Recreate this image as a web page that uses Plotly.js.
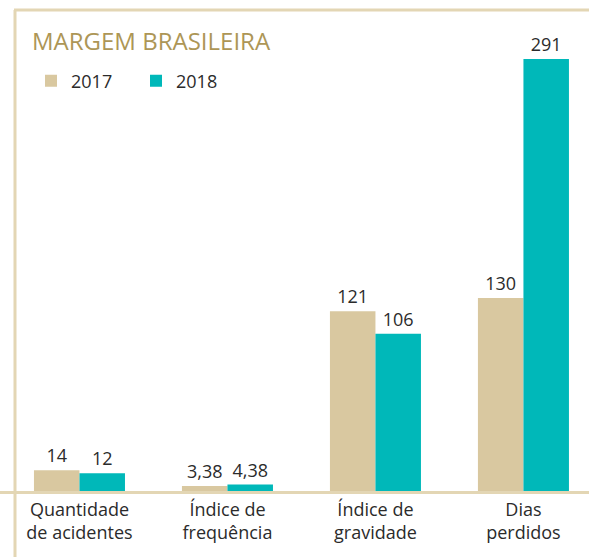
<!DOCTYPE html>
<html>
<head>
<meta charset="utf-8">
<script src="https://cdn.plot.ly/plotly-3.0.1.min.js"></script>
<style>html,body{margin:0;padding:0;background:#fff;}#chart{width:589px;height:557px;}</style>
</head>
<body>
<div id="chart"></div>
<script>
var categories = ["Quantidade<br>de acidentes", "Índice de<br>frequência", "Índice de<br>gravidade", "Dias<br>perdidos"];
var values2017 = [14, 3.38, 121, 130];
var values2018 = [12, 4.38, 106, 291];
var labels2017 = ["14", "3,38", "121", "130"];
var labels2018 = ["12", "4,38", "106", "291"];
var seriesNames = ["2017", "2018"];

var FONT = "'Open Sans', 'Noto Sans', sans-serif";
var tan = "#d9c8a0";
var teal = "#00b8b9";
var lineCol = "#e3d6b4";

var traces = [
  {type: "bar", name: seriesNames[0], x: categories, y: values2017, text: labels2017,
   textposition: "outside", cliponaxis: false, marker: {color: tan},
   textfont: {family: FONT, size: 18, color: "#2b2b2b"}, hoverinfo: "x+y"},
  {type: "bar", name: seriesNames[1], x: categories, y: values2018, text: labels2018,
   textposition: "outside", cliponaxis: false, marker: {color: teal},
   textfont: {family: FONT, size: 18, color: "#2b2b2b"}, hoverinfo: "x+y"}
];

var PH = 432;
var layout = {
  width: 589, height: 557,
  margin: {l: 0, r: 0, t: 59, b: 66, pad: 0, autoexpand: false},
  paper_bgcolor: "#fff", plot_bgcolor: "#fff",
  barmode: "group", bargap: 0.385, bargroupgap: 0,
  font: {family: FONT, color: "#2b2b2b"},
  title: {text: "MARGEM BRASILEIRA", x: 32/589, xanchor: "left", xref: "paper",
          y: 1 - 42/557, yanchor: "middle", yref: "container",
          font: {family: FONT, size: 24, color: "#ad9656"}},
  showlegend: true,
  legend: {orientation: "h", x: 31/589, xanchor: "left", y: (491 - 81)/PH, yref: "paper", yanchor: "middle",
           font: {family: FONT, size: 18, color: "#2b2b2b"}, entrywidth: 60, entrywidthmode: "pixels",
           traceorder: "normal", bgcolor: "rgba(0,0,0,0)"},
  xaxis: {type: "category", range: [-0.537, 3.443], showgrid: false, zeroline: false,
          showline: true, linecolor: lineCol, linewidth: 3, ticks: "",
          tickfont: {family: FONT, size: 18, color: "#2b2b2b"}, fixedrange: true},
  yaxis: {range: [0, 291], visible: false, showgrid: false, zeroline: false, fixedrange: true},
  shapes: [
    {type: "line", xref: "paper", yref: "paper", x0: 15/589, x1: 15/589, y0: 1 + 49/PH, y1: -66/PH,
     line: {color: lineCol, width: 3}},
    {type: "line", xref: "paper", yref: "paper", x0: 14/589, x1: 1, y0: 1 + 49/PH, y1: 1 + 49/PH,
     line: {color: lineCol, width: 3}}
  ]
};

Plotly.newPlot("chart", traces, layout, {displayModeBar: false, staticPlot: true});
</script>
</body>
</html>
